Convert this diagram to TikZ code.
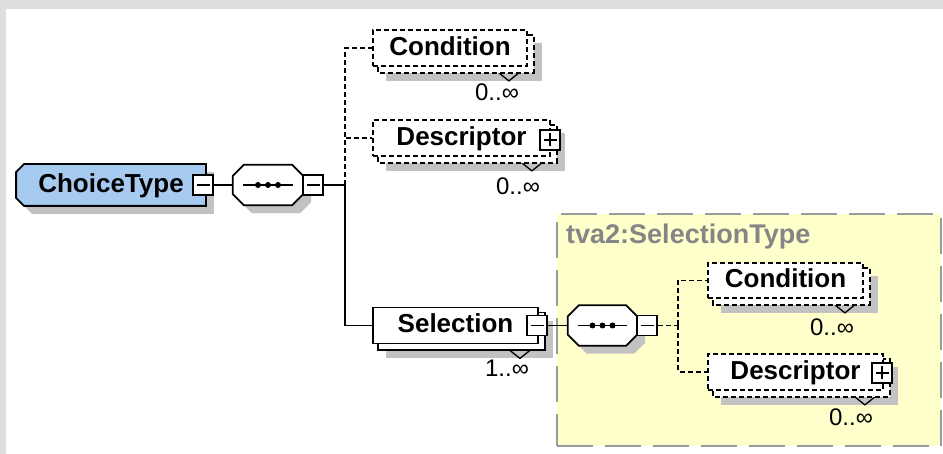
\documentclass[tikz,border=0pt]{standalone}
\usepackage{fontspec}
\setmainfont{Liberation Sans}
\pgfdeclarelayer{back}
\pgfdeclarelayer{bg}
\pgfsetlayers{back,bg,main}
\definecolor{framec}{HTML}{DEDEDE}
\definecolor{ctblue}{HTML}{A6CAF0}
\definecolor{shadowc}{HTML}{C2C2C2}
\definecolor{yel}{HTML}{FFFFCC}
\definecolor{ybord}{HTML}{9A9A9A}
\definecolor{ttl}{HTML}{858585}
\tikzset{
 lw/.style={line width=1.8pt},
 dsh/.style={dash pattern=on 5pt off 3pt},
 elem/.style={rectangle, draw, fill=white, lw, inner sep=0pt, text height=20pt, text depth=5pt,
   font=\bfseries\fontsize{26}{28}\selectfont},
 pmbox/.style={rectangle, draw, fill=white, line width=1.5pt, minimum size=20pt, inner sep=0pt},
 minusbox/.style={pmbox, path picture={\draw[line width=1.5pt] ([xshift=3.5pt]path picture bounding box.west) -- ([xshift=-3.5pt]path picture bounding box.east);}},
 plusbox/.style={pmbox, path picture={\draw[line width=1.5pt] ([xshift=3.5pt]path picture bounding box.west) -- ([xshift=-3.5pt]path picture bounding box.east) ([yshift=-3.5pt]path picture bounding box.north) -- ([yshift=3.5pt]path picture bounding box.south);}},
 mult/.style={font=\fontsize{24}{24}\selectfont, inner sep=0pt},
 compo/.style={rectangle, inner sep=0pt, minimum width=70pt, minimum height=40pt},
 conn/.style={lw},
 dconn/.style={lw, dsh},
}
\newcommand{\ctpath}[3]{([shift={(8+#2,#3)}]#1.north west) -- ([shift={(#2,#3)}]#1.north east) -- ([shift={(#2,#3)}]#1.south east) -- ([shift={(8+#2,#3)}]#1.south west) -- ([shift={(#2,-8+#3)}]#1.south west) -- ([shift={(#2,8+#3)}]#1.north west) -- cycle}
\newcommand{\octpath}[4]{([shift={(#4+#2,#3)}]#1.north west) -- ([shift={(-#4+#2,#3)}]#1.north east) -- ([shift={(#2,#4+#3)}]#1.north east) -- ([shift={(#2,-#4+#3)}]#1.south east) -- ([shift={(-#4+#2,#3)}]#1.south east) -- ([shift={(#4+#2,#3)}]#1.south west) -- ([shift={(#2,-#4+#3)}]#1.south west) -- ([shift={(#2,#4+#3)}]#1.north west) -- cycle}
\newcommand{\multideco}[2]{%
  \fill[shadowc] ([shift={(14,14)}]#1.north west) rectangle ([shift={(14,14)}]#1.south east);
  \draw[line width=1.3pt] ([shift={(-29,6)}]#1.south east) -- ++(10,8) -- ++(10,-8);
  \draw[lw, fill=white, #2] ([shift={(6,6)}]#1.north west) rectangle ([shift={(6,6)}]#1.south east);
}
\begin{document}
\begin{tikzpicture}[x=1pt,y=-1pt]
\useasboundingbox (0,0) rectangle (943,454);
\begin{pgfonlayer}{back}
\fill[framec] (0,0) rectangle (943,454);
\fill[white] (6,9) rectangle (943,454);
\node[draw=ybord, fill=yel, line width=2pt, dash pattern=on 36pt off 12pt, minimum width=384pt, minimum height=232pt, inner sep=0pt] (stype) at (749,330) {};
\end{pgfonlayer}
\node[anchor=west, inner sep=0pt, text=ttl, font=\bfseries\fontsize{27}{28}\selectfont] (stitle) at (566,237) {tva2:SelectionType};

% nodes
\node[elem, draw=none, fill=none, minimum width=188pt, minimum height=40pt] (ct) at (111,185) {ChoiceType};
\node[minusbox] (ctm) at (203,185) {};
\node[compo] (seq1) at (268,185) {};
\node[minusbox] (s1m) at (313,185) {};
\coordinate (b1) at (345,185);
\node[elem, dsh, minimum width=154pt, minimum height=36pt] (cond) at (450,48) {Condition};
\node[elem, dsh, minimum width=177pt, minimum height=36pt] (desc) at (461.5,138) {Descriptor};
\node[plusbox] (descp) at (550,140) {};
\node[elem, minimum width=165pt, minimum height=36pt] (sel) at (455.5,325.5) {Selection};
\node[minusbox] (selm) at (537,325.5) {};
\node[compo, minimum width=69pt] (seq2) at (602.5,325.5) {};
\node[minusbox] (s2m) at (647,325.5) {};
\coordinate (b2) at (678,325.5);
\node[elem, dsh, minimum width=155pt, minimum height=35pt] (icond) at (785.5,280.5) {Condition};
\node[elem, dsh, minimum width=175pt, minimum height=36pt] (idesc) at (795.5,372) {Descriptor};
\node[plusbox] (idescp) at (882,373) {};

% multiplicities
\node[mult] (condn) at (497,92) {0..∞};
\node[mult] (descn) at (518,186) {0..∞};
\node[mult] (seln) at (507,368) {1..∞};
\node[mult] (icondn) at (832,327) {0..∞};
\node[mult] (idescn) at (851,417) {0..∞};

% decorations under the nodes
\begin{pgfonlayer}{bg}
\fill[shadowc] \ctpath{ct}{8}{8};
\draw[lw, fill=ctblue] \ctpath{ct}{0}{0};
\fill[shadowc] \octpath{seq1}{8}{8}{11};
\draw[lw, fill=white] \octpath{seq1}{0}{0}{11};
\fill[shadowc] \octpath{seq2}{8}{8}{11};
\draw[lw, fill=white] \octpath{seq2}{0}{0}{11};
\multideco{cond}{dsh}
\multideco{desc}{dsh}
\multideco{sel}{solid}
\multideco{icond}{dsh}
\multideco{idesc}{dsh}
\end{pgfonlayer}

% compositor symbols
\foreach \s in {seq1,seq2}{
  \draw[lw] ([xshift=10pt]\s.west) -- ([xshift=-10pt]\s.east);
  \fill ([xshift=-10pt]\s.center) circle (3pt);
  \fill (\s.center) circle (3pt);
  \fill ([xshift=10pt]\s.center) circle (3pt);
}

% connectors
\draw[conn] (ctm.east) -- (seq1.west);
\draw[conn] (s1m.east) -- (b1);
\draw[dconn] (b1) |- (cond.west);
\draw[dconn] (b1) |- (desc.west);
\draw[conn] (b1) |- (sel.west);
\draw[conn] (selm.east) -- (seq2.west);
\draw[dconn] (s2m.east) -- (b2);
\draw[dconn] (b2) |- (icond.west);
\draw[dconn] (b2) |- (idesc.west);
\end{tikzpicture}
\end{document}
